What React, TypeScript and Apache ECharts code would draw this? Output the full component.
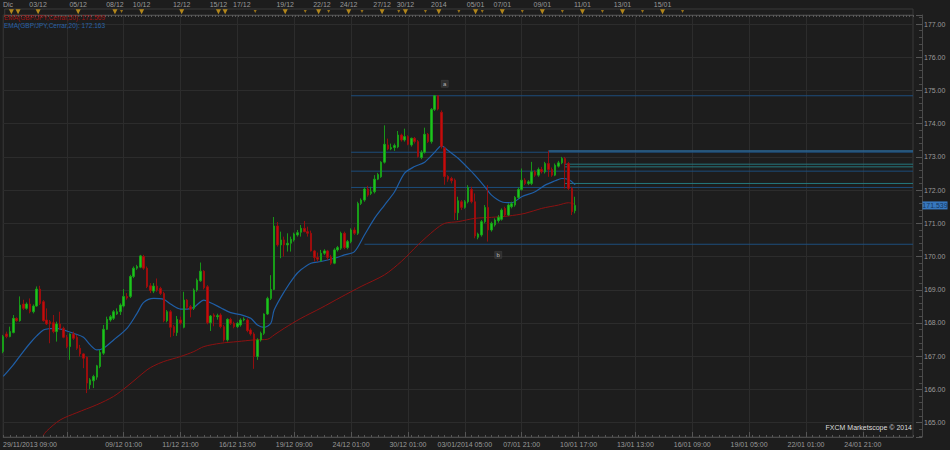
import React, { useEffect, useRef } from 'react';
import * as echarts from 'echarts';

// velas H4 GBP/JPY: [apertura, cierre, mínimo, máximo]
const candles: [number, number, number, number][] = [
  [167.14, 167.59, 167.09, 167.64], [167.67, 167.59, 167.54, 167.74], [167.59, 167.74, 167.57, 167.89],
  [167.71, 168.14, 167.69, 168.24], [168.14, 168.07, 168.04, 168.17], [168.07, 168.54, 168.04, 168.8],
  [168.57, 168.44, 168.39, 168.7], [168.44, 168.57, 168.4, 168.62], [168.57, 168.34, 168.29, 168.74],
  [168.34, 168.51, 168.29, 168.56], [168.51, 169.02, 168.49, 169.1], [169.02, 168.59, 168.54, 169.12],
  [168.64, 168.07, 168.04, 168.69], [168.09, 167.97, 167.94, 168.44], [168.04, 167.97, 167.39, 168.09],
  [168.01, 167.74, 167.69, 168.24], [167.74, 167.97, 167.44, 168.04], [167.97, 167.84, 167.79, 168.34],
  [167.84, 167.57, 167.54, 167.89], [167.57, 167.29, 167.24, 167.64], [167.29, 167.67, 166.89, 167.69],
  [167.67, 167.54, 167.49, 167.74], [167.57, 167.24, 167.19, 167.64], [167.24, 167.07, 166.99, 167.34],
  [167.07, 166.94, 166.64, 167.09], [166.97, 166.19, 165.89, 166.99], [166.14, 166.29, 166.01, 166.34],
  [166.26, 166.39, 166.04, 166.44], [166.37, 166.71, 166.29, 166.74], [166.69, 167.11, 166.64, 167.19],
  [167.09, 167.81, 167.04, 167.94], [167.81, 168.11, 167.79, 168.19], [168.09, 168.19, 168.04, 168.24],
  [168.14, 168.34, 168.09, 168.39], [168.27, 168.34, 168.24, 168.44], [168.34, 168.54, 168.24, 168.59],
  [168.51, 168.8, 168.47, 169.02], [168.8, 168.75, 168.7, 168.9], [168.8, 169.4, 168.75, 169.45],
  [169.4, 169.65, 169.35, 169.7], [169.65, 169.7, 169.6, 169.75], [169.68, 170.02, 169.65, 170.05],
  [170.0, 169.65, 169.6, 170.05], [169.65, 169.1, 169.05, 169.7], [169.12, 168.98, 168.9, 169.2],
  [168.96, 169.11, 168.9, 169.2], [169.11, 168.99, 168.94, 169.34], [169.04, 168.89, 168.84, 169.09],
  [168.89, 168.07, 168.02, 168.94], [168.07, 168.34, 168.02, 168.39], [168.34, 167.87, 167.57, 168.39],
  [167.89, 167.71, 167.61, 167.94], [167.71, 168.11, 167.61, 168.21], [168.09, 168.0, 167.95, 168.19],
  [167.87, 168.69, 167.84, 168.94], [168.69, 168.47, 168.42, 168.72], [168.49, 168.41, 168.17, 168.54],
  [168.44, 168.99, 168.39, 169.04], [168.99, 169.29, 168.94, 169.34], [169.27, 169.56, 169.24, 169.82],
  [169.56, 169.06, 169.01, 169.59], [169.09, 168.01, 167.96, 169.14], [168.01, 168.21, 167.76, 168.24],
  [168.24, 168.19, 167.9, 168.29], [168.19, 168.22, 168.1, 168.28], [168.24, 167.89, 167.84, 168.29],
  [167.89, 167.49, 167.44, 167.94], [167.49, 168.11, 167.44, 168.14], [168.11, 167.99, 167.94, 168.16],
  [167.99, 167.89, 167.84, 168.04], [167.89, 167.99, 167.85, 168.03], [167.94, 168.09, 167.89, 168.14],
  [168.09, 168.12, 168.05, 168.17], [168.09, 167.77, 167.72, 168.14], [167.79, 167.67, 167.62, 167.84],
  [167.67, 166.99, 166.62, 167.72], [166.99, 167.49, 166.89, 167.54], [167.49, 167.69, 167.44, 167.74],
  [167.69, 168.27, 167.64, 168.29], [168.27, 168.74, 168.24, 168.79], [168.74, 169.01, 168.69, 169.44],
  [169.01, 170.92, 168.99, 171.19], [170.92, 170.35, 170.3, 171.04], [170.35, 170.5, 169.95, 170.75],
  [170.5, 170.35, 170.0, 170.6], [170.35, 170.4, 170.15, 170.7], [170.4, 170.52, 170.15, 170.6],
  [170.5, 170.68, 170.45, 170.72], [170.65, 170.72, 170.6, 170.8], [170.73, 170.85, 170.6, 170.95],
  [170.85, 170.75, 170.73, 171.07], [170.75, 170.7, 170.6, 170.9], [170.7, 170.17, 170.15, 170.78],
  [170.17, 169.97, 169.85, 170.2], [169.97, 169.92, 169.85, 170.12], [169.87, 170.1, 169.85, 170.2],
  [170.1, 170.17, 170.05, 170.22], [170.17, 169.97, 169.9, 170.2], [169.99, 169.8, 169.75, 170.05],
  [169.8, 170.2, 169.77, 170.25], [170.2, 170.27, 170.15, 170.32], [170.25, 170.7, 170.2, 170.75],
  [170.7, 170.27, 170.22, 170.75], [170.27, 170.45, 170.22, 170.5], [170.45, 170.8, 170.4, 170.85],
  [170.8, 170.7, 170.65, 170.88], [170.7, 171.6, 170.65, 171.65], [171.6, 171.7, 171.55, 171.75],
  [171.7, 172.03, 171.65, 172.08], [172.03, 171.85, 171.8, 172.13], [171.9, 171.95, 171.85, 172.1],
  [171.95, 172.33, 171.9, 172.45], [172.33, 172.47, 172.3, 172.52], [172.4, 172.84, 172.37, 172.87],
  [172.84, 173.38, 172.8, 173.95], [173.36, 173.24, 173.2, 173.55], [173.24, 173.28, 173.2, 173.4],
  [173.28, 173.34, 173.18, 173.4], [173.3, 173.66, 173.26, 173.78], [173.66, 173.51, 173.46, 173.7],
  [173.51, 173.61, 173.46, 173.85], [173.61, 173.38, 173.35, 173.65], [173.36, 173.56, 173.31, 173.58],
  [173.56, 173.46, 173.4, 173.6], [173.46, 173.01, 172.98, 173.51], [172.98, 173.14, 172.93, 173.2],
  [173.14, 173.68, 173.1, 173.88], [173.68, 173.46, 173.42, 173.72], [173.46, 174.43, 173.4, 174.47],
  [174.43, 174.84, 174.38, 174.86], [174.84, 174.44, 174.4, 174.86], [174.34, 173.31, 173.25, 174.4],
  [173.26, 172.41, 172.16, 173.3], [172.41, 172.33, 172.25, 172.45], [172.35, 172.28, 172.2, 172.4],
  [172.3, 171.32, 171.1, 172.35], [171.32, 171.68, 171.1, 171.8], [171.65, 171.48, 171.4, 171.7],
  [171.48, 171.65, 171.44, 171.7], [171.65, 172.08, 171.6, 172.15], [172.02, 171.65, 171.6, 172.1],
  [171.65, 170.62, 170.55, 171.9], [170.58, 170.68, 170.52, 170.72], [170.65, 171.05, 170.6, 171.1],
  [171.05, 171.48, 171.0, 171.55], [171.48, 170.8, 170.45, 172.15], [170.8, 171.0, 170.75, 171.05],
  [170.95, 171.1, 170.9, 171.15], [171.08, 171.18, 171.02, 171.25], [171.12, 171.4, 171.08, 171.45],
  [171.45, 171.25, 171.2, 171.5], [171.25, 171.55, 171.22, 171.6], [171.5, 171.59, 171.45, 171.65],
  [171.55, 171.78, 171.5, 171.82], [171.78, 172.02, 171.74, 172.08], [172.02, 172.3, 171.98, 172.65],
  [172.3, 172.2, 172.15, 172.36], [172.2, 172.25, 172.15, 172.3], [172.2, 172.55, 172.15, 172.85],
  [172.55, 172.45, 172.4, 172.6], [172.45, 172.62, 172.4, 172.68], [172.62, 172.55, 172.5, 172.7],
  [172.55, 172.8, 172.5, 172.85], [172.8, 172.62, 172.4, 173.18], [172.62, 172.45, 172.4, 172.68],
  [172.45, 172.75, 172.42, 172.8], [172.72, 172.82, 172.68, 172.88], [172.82, 172.95, 172.78, 173.0],
  [172.95, 172.8, 172.05, 173.0], [172.8, 172.05, 172.0, 172.85], [172.05, 171.35, 171.25, 172.1],
  [171.38, 171.539, 171.3, 171.8],
];

// EMA 20 (azul): [índice de vela, valor]
const ema20: [number, number][] = [
  [0, 166.39], [3, 166.74], [6, 167.14], [8, 167.39], [10, 167.61], [12, 167.79], [14, 167.83],
  [16, 167.84], [19, 167.76], [21, 167.69], [24, 167.57], [26, 167.34], [28, 167.19], [30, 167.24],
  [33, 167.49], [37, 167.84], [40, 168.29], [42, 168.62], [45, 168.74], [48, 168.71], [50, 168.57],
  [53, 168.42], [55, 168.42], [57, 168.47], [60, 168.69], [62, 168.61], [65, 168.46], [68, 168.31],
  [71, 168.25], [74, 168.14], [76, 167.94], [78, 167.87], [80, 167.99], [81, 168.39], [84, 168.94],
  [87, 169.39], [89, 169.6], [92, 169.8], [95, 169.85], [99, 169.95], [102, 170.05], [105, 170.15],
  [108, 170.65], [111, 171.15], [114, 171.55], [117, 171.95], [120, 172.51], [123, 172.71],
  [126, 172.84], [129, 173.14], [131, 173.33], [133, 173.19], [136, 172.96], [139, 172.66],
  [141, 172.45], [144, 172.1], [146, 171.85], [149, 171.65], [152, 171.62], [155, 171.8],
  [159, 171.95], [162, 172.15], [165, 172.28], [167, 172.35], [169, 172.32], [171, 172.163],
];

// EMA 50 (roja)
const ema50: [number, number][] = [
  [12, 164.62], [13, 164.75], [17, 165.08], [22, 165.3], [28, 165.54], [33, 165.79], [37, 166.09],
  [40, 166.34], [43, 166.59], [45, 166.71], [48, 166.84], [53, 166.99], [57, 167.14], [60, 167.29],
  [65, 167.39], [70, 167.44], [75, 167.49], [79, 167.51], [81, 167.64], [84, 167.84], [89, 168.14],
  [95, 168.45], [101, 168.78], [107, 169.1], [114, 169.45], [119, 169.85], [124, 170.35],
  [129, 170.8], [132, 171.0], [136, 171.05], [141, 171.15], [146, 171.18], [151, 171.22],
  [156, 171.3], [161, 171.45], [166, 171.55], [169, 171.62], [171, 171.569],
];

// líneas horizontales dibujadas: [vela de inicio, precio, tipo]
const levels: [number, number, string][] = [
  [104, 174.84, 'blue'], [104, 173.14, 'blue'], [163, 173.18, 'bright'], [168, 172.78, 'teal'],
  [168, 172.7, 'teal'], [104, 172.57, 'blue'], [168, 172.2, 'teal'], [104, 172.08, 'blue'],
  [108, 170.37, 'blue'],
];

const lastPrice = 171.539;
const notes: [number, number, string][] = [[132, 175.2, 'a'], [148, 170.05, 'b']];

const bottomIdx = [8, 36, 53, 70, 87, 104, 121, 138, 155, 172, 189, 206, 223, 240, 257];
const bottomLabels = [
  '29/11/2013 09:00', '09/12 01:00', '11/12 21:00', '16/12 13:00', '19/12 09:00', '24/12 01:00',
  '30/12 01:00', '03/01/2014 05:00', '07/01 21:00', '10/01 17:00', '13/01 13:00', '16/01 09:00',
  '19/01 05:00', '22/01 01:00', '24/01 21:00',
];
const topIdx = [1, 10, 22, 33, 41, 53, 64, 71, 84, 95, 103, 113, 120, 130, 141, 149, 161, 173, 185, 197];
const topLabels = [
  'Dic', '03/12', '05/12', '08/12', '10/12', '12/12', '15/12', '17/12', '19/12', '22/12', '24/12',
  '27/12', '30/12', '2014', '05/01', '07/01', '09/01', '11/01', '13/01', '15/01',
];
const bigMarks = [2, 4, 10, 22, 33, 41, 53, 64, 66, 84, 94, 103, 113, 120, 130, 141, 149, 161, 173, 185, 197];
const smallMarks = [35, 75, 90, 97, 107, 118, 126, 136, 143, 155, 167, 179, 191, 203];

const N_CATS = 273;
const FONT = 'Liberation Sans, Arial, sans-serif';
const LEVEL_COLORS: Record<string, string> = { blue: '#1c4d7c', bright: '#2b6796', teal: '#24787e' };

function App() {
  const chartRef = useRef<HTMLDivElement | null>(null);

  useEffect(() => {
    if (!chartRef.current) return undefined;
    const chart = echarts.init(chartRef.current, null, { renderer: 'svg' });

    const cats = Array.from({ length: N_CATS }, (_, i) => String(i));
    const bottomMap: Record<number, string> = {};
    bottomIdx.forEach((idx, k) => { bottomMap[idx] = bottomLabels[k]; });
    const topMap: Record<number, string> = {};
    topIdx.forEach((idx, k) => { topMap[idx] = topLabels[k]; });
    const isGrid = (i: number) => i >= 19 && (i - 19) % 17 === 0;
    const last = N_CATS - 1;

    const levelSeries = levels.map(([start, v, kind]) => ({
      type: 'line',
      data: [[start, v], [last, v]],
      symbol: 'none',
      silent: true,
      z: 1,
      lineStyle: { color: LEVEL_COLORS[kind], width: kind === 'bright' ? 1.5 : 1 },
    }));

    const option = {
      animation: false,
      backgroundColor: '#1d1d1d',
      grid: [
        { left: 0, right: 37, top: 15, bottom: 13, show: true, borderColor: '#3a3a3a', backgroundColor: '#1d1d1d' },
        { left: 0, right: 37, top: 9, height: 6, show: true, borderColor: '#3a3a3a', backgroundColor: '#1d1d1d' },
      ],
      xAxis: [
        {
          type: 'category',
          gridIndex: 0,
          data: cats,
          boundaryGap: false,
          position: 'bottom',
          axisLine: { lineStyle: { color: '#4a4a4a' } },
          axisTick: { inside: true, length: 2, interval: 1, lineStyle: { color: '#555' } },
          axisLabel: {
            interval: (i: number) => bottomMap[i] !== undefined,
            formatter: (_v: string, i: number) => bottomMap[i] ?? '',
            color: '#9a9a9a',
            fontSize: 7,
            fontFamily: FONT,
            margin: 4,
          },
          splitLine: { show: true, interval: (i: number) => isGrid(i), lineStyle: { color: '#2c2c2c' } },
        },
        {
          type: 'category',
          gridIndex: 0,
          data: cats,
          boundaryGap: false,
          position: 'bottom',
          axisLine: { show: false },
          axisTick: { inside: true, length: 5, interval: (i: number) => isGrid(i), lineStyle: { color: '#555' } },
          axisLabel: { show: false },
          splitLine: { show: false },
        },
        {
          type: 'category',
          gridIndex: 1,
          data: cats,
          boundaryGap: false,
          position: 'top',
          axisLine: { lineStyle: { color: '#4a4a4a' } },
          axisTick: { inside: true, length: 2, interval: 0, lineStyle: { color: '#5a5a5a' } },
          axisLabel: {
            interval: (i: number) => topMap[i] !== undefined,
            formatter: (_v: string, i: number) => topMap[i] ?? '',
            color: '#9a9a9a',
            fontSize: 7,
            fontFamily: FONT,
            margin: 1,
          },
          splitLine: { show: false },
        },
      ],
      yAxis: [
        {
          type: 'value',
          gridIndex: 0,
          position: 'right',
          offset: 9,
          min: 164.568,
          max: 177.271,
          splitNumber: 12,
          minInterval: 1,
          maxInterval: 1,
          axisLine: { show: true, lineStyle: { color: '#4a4a4a' } },
          axisTick: { show: true, inside: true, length: 6, lineStyle: { color: '#555' } },
          minorTick: { show: true, splitNumber: 5, length: 3, lineStyle: { color: '#4a4a4a' } },
          axisLabel: {
            formatter: (v: number) => v.toFixed(2),
            color: '#9a9a9a',
            fontSize: 7,
            fontFamily: FONT,
            margin: 2,
            showMinLabel: false,
            showMaxLabel: false,
          },
          splitLine: { lineStyle: { color: '#2c2c2c' } },
        },
        { type: 'value', gridIndex: 1, min: 0, max: 1, show: false },
      ],
      graphic: [
        {
          type: 'text', left: 4, top: 14, z: 10,
          style: { text: 'EMA(GBP/JPY,Cerrar,50): 171.569', fill: '#a01414', fontSize: 6.5, fontFamily: FONT },
        },
        {
          type: 'text', left: 4, top: 22, z: 10,
          style: { text: 'EMA(GBP/JPY,Cerrar,20): 172.163', fill: '#2a62a8', fontSize: 6.5, fontFamily: FONT },
        },
        {
          type: 'text', right: 38, top: 424, z: 10,
          style: { text: 'FXCM Marketscope © 2014', fill: '#dcdcdc', fontSize: 7, fontFamily: FONT },
        },
      ],
      series: [
        ...levelSeries,
        {
          type: 'line',
          data: ema50,
          symbol: 'none',
          smooth: 0.3,
          silent: true,
          z: 2,
          lineStyle: { color: '#8c1212', width: 1 },
        },
        {
          type: 'line',
          data: ema20,
          symbol: 'none',
          smooth: 0.3,
          silent: true,
          z: 2,
          lineStyle: { color: '#1f5ea6', width: 1.2 },
        },
        {
          type: 'candlestick',
          data: candles,
          barWidth: 2,
          z: 3,
          itemStyle: {
            color: '#1ec41e',
            color0: '#c40c0c',
            borderColor: '#17a317',
            borderColor0: '#a00c0c',
            borderWidth: 0.9,
          },
        },
        {
          // etiqueta del último precio sobre el eje derecho
          type: 'scatter',
          data: [[last, lastPrice]],
          symbol: 'rect',
          symbolSize: [25, 8],
          symbolOffset: [22, 0],
          clip: false,
          silent: true,
          z: 6,
          itemStyle: { color: '#3f8fe6' },
          label: {
            show: true,
            position: 'inside',
            formatter: lastPrice.toFixed(3),
            color: '#0c2444',
            fontSize: 7,
            fontFamily: FONT,
          },
        },
        {
          type: 'scatter',
          data: notes.map(([i, v]) => [i, v]),
          symbol: 'rect',
          symbolSize: [7, 7],
          silent: true,
          z: 4,
          itemStyle: { color: '#343434', borderColor: '#4a4a4a', borderWidth: 0.5 },
          label: {
            show: true,
            position: 'inside',
            formatter: (p: { dataIndex: number }) => notes[p.dataIndex][2],
            color: '#d8d8d8',
            fontSize: 6,
            fontFamily: FONT,
          },
        },
        {
          type: 'scatter',
          xAxisIndex: 2,
          yAxisIndex: 1,
          data: bigMarks.map((i) => [i, 0.55]),
          symbol: 'triangle',
          symbolRotate: 180,
          symbolSize: [5, 5],
          silent: true,
          itemStyle: { color: '#d9a21c' },
        },
        {
          type: 'scatter',
          xAxisIndex: 2,
          yAxisIndex: 1,
          data: smallMarks.map((i) => [i, 0.6]),
          symbol: 'triangle',
          symbolRotate: 180,
          symbolSize: [3, 3],
          silent: true,
          itemStyle: { color: '#b88a1a' },
        },
      ],
    };

    chart.setOption(option as echarts.EChartsOption);

    return () => {
      chart.dispose();
    };
  }, []);

  return (
    <div
      ref={chartRef}
      style={{ position: 'fixed', left: 0, top: 0, width: '950px', height: '450px' }}
    />
  );
}

export default App;
